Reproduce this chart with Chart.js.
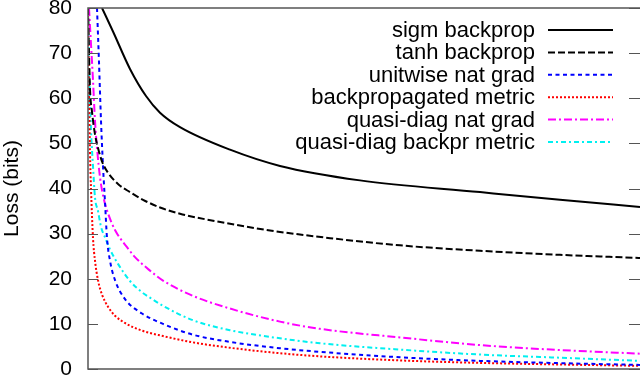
<!DOCTYPE html>
<html>
<head>
<meta charset="utf-8">
<script src="https://cdn.jsdelivr.net/npm/chart.js@4/dist/chart.umd.min.js"></script>
<style>
html,body{margin:0;padding:0;background:#fff;}
#wrap{width:640px;height:376px;position:relative;}
</style>
</head>
<body>
<div id="wrap"><canvas id="c" width="640" height="376"></canvas></div>
<script>
// Series labels
const seriesLabels = ["sigm backprop", "tanh backprop", "unitwise nat grad", "backpropagated metric", "quasi-diag nat grad", "quasi-diag backpr metric"];
// y-axis ticks
const yTicks = [0, 10, 20, 30, 40, 50, 60, 70, 80];

// Iteration (x) and loss (y) values for each series
const xSigm = [14, 25, 42, 58, 72, 92, 142, 192, 272, 392, 472, 552];
const ySigm = [80, 74.8, 66.5, 60.5, 56.8, 53.6, 48.6, 45, 41.8, 39.2, 37.5, 35.9];

const xTanh = [0, 1, 2, 4, 7, 10, 14, 20, 30, 42, 55, 72, 92, 142, 182, 242, 312, 392, 472, 552];
const yTanh = [80, 70, 62, 57, 52, 49, 46, 43.5, 41, 39.2, 37.5, 35.8, 34.4, 32.2, 30.7, 29, 27.4, 26.2, 25.3, 24.6];

const xUnit = [9, 11, 13, 15, 17, 19, 22, 27, 37, 54, 75, 105, 142, 192, 232, 312, 392, 472, 552];
const yUnit = [80, 68, 55, 45, 37, 29, 24, 19.7, 15.5, 12.3, 10, 7.6, 6.0, 4.6, 3.8, 2.6, 1.8, 1.3, 0.9];

const xBpm = [0, 1, 2, 3, 5, 7, 10, 14, 20, 27, 37, 54, 75, 105, 142, 192, 232, 312, 392, 472, 552];
const yBpm = [80, 62, 48, 40, 29, 24, 19.7, 16.5, 13.8, 11.8, 10.2, 8.5, 7.3, 5.9, 4.7, 3.5, 2.8, 1.9, 1.35, 1.0, 0.7];

const xQdng = [1, 3, 5, 7, 9, 12, 16, 20, 27, 39, 47, 62, 75, 105, 142, 192, 232, 312, 392, 472, 552];
const yQdng = [80, 72, 64, 55, 49, 42.5, 37.5, 34.5, 30.8, 27, 24.8, 21.8, 19.6, 16.2, 13.4, 10.5, 8.9, 7.0, 5.3, 4.2, 3.4];

const xQdbm = [0, 1, 2, 3, 5, 7, 10, 13, 17, 22, 30, 42, 54, 62, 75, 105, 142, 192, 232, 312, 392, 472, 552];
const yQdbm = [80, 68, 60, 53, 45, 38, 35, 31.5, 29.2, 26.5, 23.3, 19.5, 17.0, 15.8, 14.0, 10.8, 8.6, 6.8, 5.7, 4.3, 3.2, 2.5, 1.8];

const xMax = 552;

function pts(xs, ys) { return xs.map((x, i) => ({x: x, y: ys[i]})); }

const styles = [
  {color: "#000000", dash: []},
  {color: "#000000", dash: [7, 3]},
  {color: "#0000ff", dash: [4, 3.5]},
  {color: "#ff0000", dash: [2, 2]},
  {color: "#ff00ff", dash: [8, 3, 2, 3]},
  {color: "#00f0f0", dash: [5, 3, 2, 3]}
];
const allData = [pts(xSigm, ySigm), pts(xTanh, yTanh), pts(xUnit, yUnit), pts(xBpm, yBpm), pts(xQdng, yQdng), pts(xQdbm, yQdbm)];

const datasets = allData.map((d, i) => ({
  label: seriesLabels[i],
  data: d,
  borderColor: styles[i].color,
  borderDash: styles[i].dash,
  borderWidth: 2,
  pointRadius: 0,
  fill: false,
  cubicInterpolationMode: 'monotone'
}));

const FONT = "'Liberation Sans', Arial, Helvetica, sans-serif";

const framePlugin = {
  id: 'frame',
  afterDraw(chart) {
    const ctx = chart.ctx, a = chart.chartArea, ys = chart.scales.y;
    ctx.save();
    ctx.strokeStyle = '#555';
    ctx.lineWidth = 1.5;
    ctx.setLineDash([]);
    ctx.beginPath();
    ctx.moveTo(a.right + 2, a.top);
    ctx.lineTo(a.left, a.top);
    ctx.lineTo(a.left, a.bottom);
    ctx.lineTo(a.right + 2, a.bottom);
    ctx.stroke();
    ctx.lineWidth = 1.2;
    yTicks.forEach(v => {
      const py = Math.round(ys.getPixelForValue(v)) + 0.5;
      ctx.beginPath();
      ctx.moveTo(a.left, py); ctx.lineTo(a.left + 10, py);
      ctx.moveTo(a.right - 11, py); ctx.lineTo(a.right, py);
      ctx.stroke();
    });
    // legend
    ctx.font = '22px ' + FONT;
    ctx.textAlign = 'right';
    ctx.textBaseline = 'middle';
    chart.data.datasets.forEach((ds, i) => {
      const y = a.top + 22 + i * 22.4;
      ctx.fillStyle = '#000';
      ctx.fillText(ds.label, a.right - 105, y + 1);
      ctx.strokeStyle = ds.borderColor;
      ctx.lineWidth = 2;
      ctx.setLineDash(ds.borderDash);
      ctx.beginPath();
      ctx.moveTo(a.right - 92, y);
      ctx.lineTo(a.right - 27, y);
      ctx.stroke();
    });
    ctx.restore();
  }
};

new Chart(document.getElementById('c'), {
  type: 'line',
  data: {datasets: datasets},
  plugins: [framePlugin],
  options: {
    responsive: false,
    animation: false,
    devicePixelRatio: 1,
    layout: {padding: {left: 0, right: 0, top: 8, bottom: 7}},
    plugins: {legend: {display: false}, tooltip: {enabled: false}},
    scales: {
      x: {type: 'linear', min: 0, max: xMax, display: false},
      y: {
        min: 0, max: 80,
        afterFit(scale) { scale.width = 88; scale.paddingTop = 0; scale.paddingBottom = 0; },
        afterBuildTicks(scale) { scale.ticks = yTicks.map(v => ({value: v})); },
        grid: {display: false, drawTicks: false},
        border: {display: false},
        ticks: {color: '#000', padding: 16, font: {family: FONT, size: 21}},
        title: {display: true, text: 'Loss (bits)', color: '#000', padding: 0, font: {family: FONT, size: 21}}
      }
    }
  }
});
</script>
</body>
</html>
